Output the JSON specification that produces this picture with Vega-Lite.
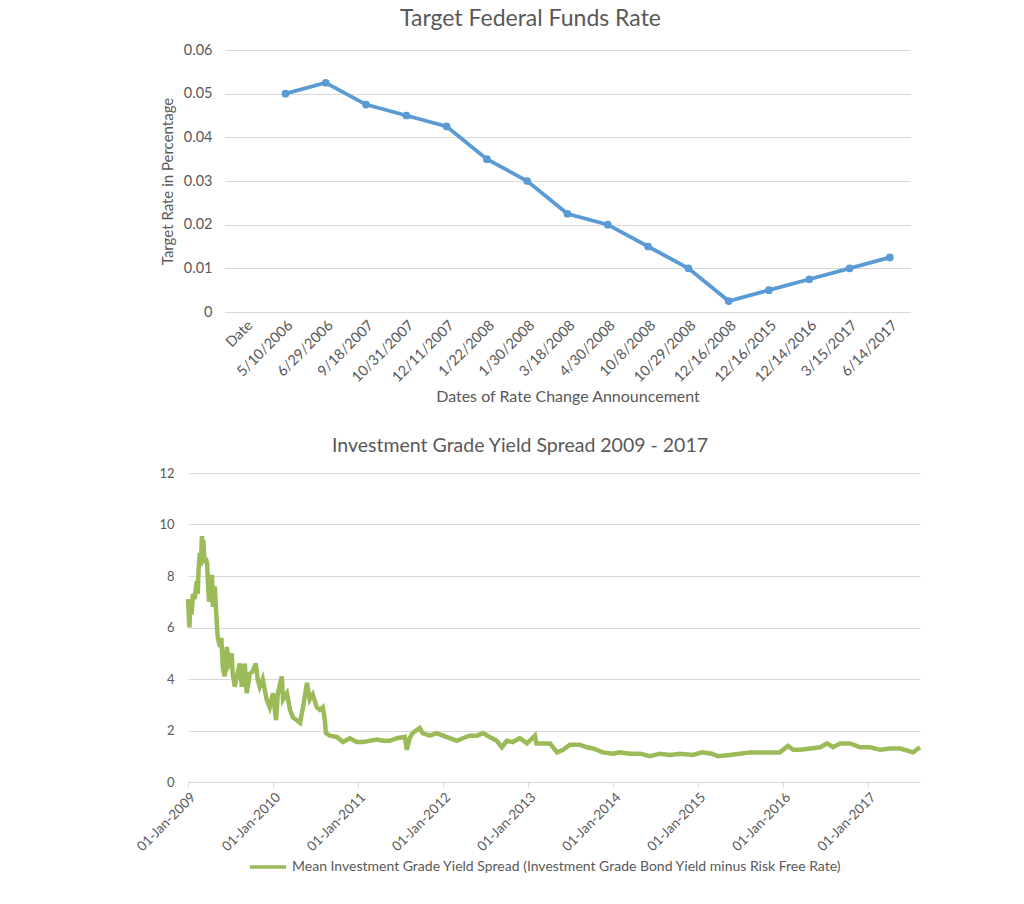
{
  "$schema": "https://vega.github.io/schema/vega-lite/v6.json",
  "background": "white",
  "padding": {"left": 134, "top": 8, "right": 5, "bottom": 5},
  "config": {
    "font": "Lato",
    "view": {"stroke": null},
    "axis": {"labelColor": "#595959", "titleColor": "#595959", "labelFontSize": 14, "titleFontSize": 16, "titleFontWeight": "normal", "gridColor": "#d9d9d9", "domainColor": "#d9d9d9", "tickColor": "#d9d9d9"},
    "title": {"color": "#595959", "fontSize": 19.5, "fontWeight": "normal", "font": "Lato"},
    "legend": {"labelColor": "#595959", "labelFontSize": 14}
  },
  "resolve": {"scale": {"color": "independent"}, "legend": {"color": "independent"}},
  "bounds": "flush",
  "align": "none",
  "spacing": 423,
  "vconcat": [
    {
      "spacing": 0,
      "bounds": "flush",
      "hconcat": [
        {
          "width": 37,
          "height": 262,
          "data": {"values": [{}]},
          "mark": {"type": "point", "opacity": 0},
          "encoding": {}
        },
        {
          "title": {"text": "Target Federal Funds Rate", "dx": -37, "offset": 11, "fontSize": 23},
          "width": 685,
          "height": 262,
          "data": {"values": [
            {"date": "Date", "rate": null},
            {"date": "5/10/2006", "rate": 0.05},
            {"date": "6/29/2006", "rate": 0.0525},
            {"date": "9/18/2007", "rate": 0.0475},
            {"date": "10/31/2007", "rate": 0.045},
            {"date": "12/11/2007", "rate": 0.0425},
            {"date": "1/22/2008", "rate": 0.035},
            {"date": "1/30/2008", "rate": 0.03},
            {"date": "3/18/2008", "rate": 0.0225},
            {"date": "4/30/2008", "rate": 0.02},
            {"date": "10/8/2008", "rate": 0.015},
            {"date": "10/29/2008", "rate": 0.01},
            {"date": "12/16/2008", "rate": 0.0025},
            {"date": "12/16/2015", "rate": 0.005},
            {"date": "12/14/2016", "rate": 0.0075},
            {"date": "3/15/2017", "rate": 0.01},
            {"date": "6/14/2017", "rate": 0.0125}
          ]},
          "mark": {"type": "line", "color": "#5b9bd5", "strokeWidth": 3.8, "point": {"filled": true, "size": 60, "color": "#5b9bd5"}},
          "encoding": {
            "x": {"field": "date", "type": "nominal", "sort": null,
              "scale": {"type": "point", "padding": 0.5, "domain": ["Date", "5/10/2006", "6/29/2006", "9/18/2007", "10/31/2007", "12/11/2007", "1/22/2008", "1/30/2008", "3/18/2008", "4/30/2008", "10/8/2008", "10/29/2008", "12/16/2008", "12/16/2015", "12/14/2016", "3/15/2017", "6/14/2017"]},
              "axis": {"title": "Dates of Rate Change Announcement", "labelAngle": -45, "ticks": false, "labelPadding": 6, "titlePadding": 4, "grid": false, "labelFontSize": 14.5}},
            "y": {"field": "rate", "type": "quantitative",
              "scale": {"domain": [0, 0.06]},
              "axis": {"title": "Target Rate in Percentage", "values": [0, 0.01, 0.02, 0.03, 0.04, 0.05, 0.06], "labelExpr": "datum.value == 0 ? '0' : format(datum.value, '.2f')", "domain": false, "ticks": false, "labelPadding": 13, "titlePadding": 8, "labelFontSize": 14.5, "titleFontSize": 15}}
          }
        }
      ]
    },
    {
      "title": {"text": "Investment Grade Yield Spread 2009 - 2017", "dx": -34, "offset": 11},
      "width": 732,
      "height": 309,
      "data": {"values": [
        {"date": "2009-01-01", "spread": 7.1},
        {"date": "2009-01-07", "spread": 6.0},
        {"date": "2009-01-11", "spread": 6.8},
        {"date": "2009-01-16", "spread": 6.5},
        {"date": "2009-01-22", "spread": 7.3},
        {"date": "2009-01-29", "spread": 7.1},
        {"date": "2009-02-08", "spread": 7.8},
        {"date": "2009-02-12", "spread": 7.3},
        {"date": "2009-02-15", "spread": 8.2},
        {"date": "2009-02-21", "spread": 8.9},
        {"date": "2009-02-25", "spread": 8.4},
        {"date": "2009-03-02", "spread": 9.55},
        {"date": "2009-03-05", "spread": 8.8},
        {"date": "2009-03-08", "spread": 9.4},
        {"date": "2009-03-13", "spread": 8.5},
        {"date": "2009-03-18", "spread": 8.7},
        {"date": "2009-03-24", "spread": 8.5},
        {"date": "2009-04-01", "spread": 7.0},
        {"date": "2009-04-07", "spread": 7.6},
        {"date": "2009-04-14", "spread": 8.05},
        {"date": "2009-04-18", "spread": 6.8},
        {"date": "2009-04-26", "spread": 7.6},
        {"date": "2009-05-05", "spread": 6.1},
        {"date": "2009-05-09", "spread": 5.6},
        {"date": "2009-05-18", "spread": 5.25},
        {"date": "2009-05-24", "spread": 5.6},
        {"date": "2009-05-31", "spread": 4.4},
        {"date": "2009-06-08", "spread": 4.1},
        {"date": "2009-06-17", "spread": 5.25},
        {"date": "2009-06-23", "spread": 4.5},
        {"date": "2009-06-29", "spread": 4.6},
        {"date": "2009-07-08", "spread": 5.0},
        {"date": "2009-07-12", "spread": 4.2},
        {"date": "2009-07-21", "spread": 3.7},
        {"date": "2009-07-30", "spread": 4.1},
        {"date": "2009-08-11", "spread": 4.6},
        {"date": "2009-08-20", "spread": 3.7},
        {"date": "2009-08-27", "spread": 4.2},
        {"date": "2009-09-02", "spread": 4.6},
        {"date": "2009-09-10", "spread": 3.45},
        {"date": "2009-09-23", "spread": 4.2},
        {"date": "2009-10-06", "spread": 4.3},
        {"date": "2009-10-19", "spread": 4.6},
        {"date": "2009-10-27", "spread": 4.0},
        {"date": "2009-11-05", "spread": 3.7},
        {"date": "2009-11-18", "spread": 4.0},
        {"date": "2009-12-05", "spread": 3.2},
        {"date": "2009-12-18", "spread": 2.9},
        {"date": "2010-01-01", "spread": 3.45},
        {"date": "2010-01-14", "spread": 2.4},
        {"date": "2010-01-22", "spread": 3.45},
        {"date": "2010-02-08", "spread": 4.1},
        {"date": "2010-02-13", "spread": 3.2},
        {"date": "2010-03-02", "spread": 3.45},
        {"date": "2010-03-15", "spread": 2.8},
        {"date": "2010-03-28", "spread": 2.5},
        {"date": "2010-04-14", "spread": 2.4},
        {"date": "2010-04-27", "spread": 2.3},
        {"date": "2010-05-10", "spread": 2.9},
        {"date": "2010-05-27", "spread": 3.85},
        {"date": "2010-06-08", "spread": 3.2},
        {"date": "2010-06-21", "spread": 3.4},
        {"date": "2010-07-08", "spread": 2.9},
        {"date": "2010-07-21", "spread": 2.8},
        {"date": "2010-08-03", "spread": 2.9},
        {"date": "2010-08-12", "spread": 2.4},
        {"date": "2010-08-16", "spread": 1.9},
        {"date": "2010-09-02", "spread": 1.8},
        {"date": "2010-10-02", "spread": 1.75},
        {"date": "2010-10-28", "spread": 1.55},
        {"date": "2010-11-27", "spread": 1.7},
        {"date": "2010-12-27", "spread": 1.55},
        {"date": "2011-01-22", "spread": 1.55},
        {"date": "2011-02-21", "spread": 1.6},
        {"date": "2011-03-23", "spread": 1.65},
        {"date": "2011-04-18", "spread": 1.6},
        {"date": "2011-05-18", "spread": 1.6},
        {"date": "2011-06-17", "spread": 1.7},
        {"date": "2011-07-21", "spread": 1.75},
        {"date": "2011-07-30", "spread": 1.25},
        {"date": "2011-08-11", "spread": 1.7},
        {"date": "2011-08-24", "spread": 1.9},
        {"date": "2011-09-23", "spread": 2.1},
        {"date": "2011-10-06", "spread": 1.9},
        {"date": "2011-11-05", "spread": 1.8},
        {"date": "2011-12-05", "spread": 1.9},
        {"date": "2012-01-01", "spread": 1.8},
        {"date": "2012-01-30", "spread": 1.7},
        {"date": "2012-03-01", "spread": 1.6},
        {"date": "2012-03-26", "spread": 1.7},
        {"date": "2012-04-25", "spread": 1.8},
        {"date": "2012-05-26", "spread": 1.8},
        {"date": "2012-06-21", "spread": 1.9},
        {"date": "2012-07-20", "spread": 1.75},
        {"date": "2012-08-19", "spread": 1.6},
        {"date": "2012-09-10", "spread": 1.35},
        {"date": "2012-10-01", "spread": 1.6},
        {"date": "2012-10-27", "spread": 1.55},
        {"date": "2012-11-26", "spread": 1.7},
        {"date": "2012-12-27", "spread": 1.5},
        {"date": "2013-01-30", "spread": 1.8},
        {"date": "2013-02-05", "spread": 1.5},
        {"date": "2013-02-21", "spread": 1.5},
        {"date": "2013-04-05", "spread": 1.5},
        {"date": "2013-05-05", "spread": 1.15},
        {"date": "2013-05-31", "spread": 1.25},
        {"date": "2013-06-29", "spread": 1.45},
        {"date": "2013-08-11", "spread": 1.45},
        {"date": "2013-09-10", "spread": 1.35},
        {"date": "2013-10-06", "spread": 1.3},
        {"date": "2013-11-18", "spread": 1.15},
        {"date": "2014-01-01", "spread": 1.1},
        {"date": "2014-01-30", "spread": 1.15},
        {"date": "2014-03-14", "spread": 1.1},
        {"date": "2014-04-26", "spread": 1.1},
        {"date": "2014-06-08", "spread": 1.0},
        {"date": "2014-07-21", "spread": 1.1},
        {"date": "2014-09-02", "spread": 1.05},
        {"date": "2014-10-15", "spread": 1.1},
        {"date": "2014-12-10", "spread": 1.05},
        {"date": "2015-01-18", "spread": 1.15},
        {"date": "2015-03-01", "spread": 1.1},
        {"date": "2015-03-26", "spread": 1.0},
        {"date": "2015-05-18", "spread": 1.05},
        {"date": "2015-06-29", "spread": 1.1},
        {"date": "2015-08-11", "spread": 1.15},
        {"date": "2015-09-23", "spread": 1.15},
        {"date": "2015-11-05", "spread": 1.15},
        {"date": "2015-12-18", "spread": 1.15},
        {"date": "2016-01-22", "spread": 1.4},
        {"date": "2016-02-13", "spread": 1.25},
        {"date": "2016-03-14", "spread": 1.25},
        {"date": "2016-04-26", "spread": 1.3},
        {"date": "2016-06-08", "spread": 1.35},
        {"date": "2016-07-08", "spread": 1.5},
        {"date": "2016-08-03", "spread": 1.35},
        {"date": "2016-09-02", "spread": 1.5},
        {"date": "2016-10-15", "spread": 1.5},
        {"date": "2016-11-27", "spread": 1.35},
        {"date": "2017-01-09", "spread": 1.35},
        {"date": "2017-02-21", "spread": 1.25},
        {"date": "2017-04-05", "spread": 1.3},
        {"date": "2017-05-18", "spread": 1.3},
        {"date": "2017-07-12", "spread": 1.15},
        {"date": "2017-08-11", "spread": 1.35}
      ]},
      "mark": {"type": "line", "strokeWidth": 4.5},
      "encoding": {
        "x": {"field": "date", "type": "temporal",
          "scale": {"domain": [{"year": 2009, "month": 1, "date": 1}, {"year": 2017, "month": 8, "date": 11}]},
          "axis": {"title": null, "format": "%d-%b-%Y", "labelAngle": -45, "grid": false, "labelFontSize": 13.5, "tickSize": 5, "labelPadding": 3,
            "values": [{"year": 2009, "month": 1, "date": 1}, {"year": 2010, "month": 1, "date": 1}, {"year": 2011, "month": 1, "date": 1}, {"year": 2012, "month": 1, "date": 1}, {"year": 2013, "month": 1, "date": 1}, {"year": 2014, "month": 1, "date": 1}, {"year": 2015, "month": 1, "date": 1}, {"year": 2016, "month": 1, "date": 1}, {"year": 2017, "month": 1, "date": 1}]}},
        "y": {"field": "spread", "type": "quantitative",
          "scale": {"domain": [0, 12]},
          "axis": {"title": null, "values": [0, 2, 4, 6, 8, 10, 12], "domain": false, "ticks": false, "labelPadding": 14, "labelFontSize": 13}},
        "color": {"datum": "Mean Investment Grade Yield Spread (Investment Grade Bond Yield minus Risk Free Rate)",
          "scale": {"range": ["#9bbb59"]},
          "legend": {"title": null, "orient": "none", "legendX": 60, "legendY": 374, "symbolType": "stroke", "symbolSize": 1300, "symbolStrokeWidth": 3.5, "labelLimit": 0, "labelFontSize": 14, "symbolOffset": 0}}
      }
    }
  ]
}
